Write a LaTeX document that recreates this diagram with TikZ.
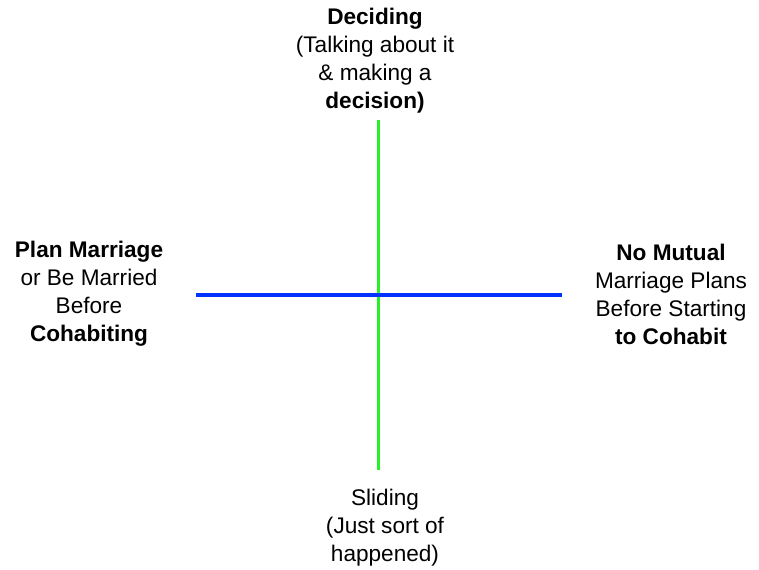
\documentclass[tikz,border=0pt]{standalone}
\usepackage{fontspec}
\setmainfont{Liberation Sans}
\usepackage{xcolor}
\usepackage{tikz}
\usetikzlibrary{positioning, calc}
\definecolor{axevert}{RGB}{40,240,40}
\definecolor{axebleu}{RGB}{0,51,255}

\begin{document}
\begin{tikzpicture}[x=0.5pt, y=-0.5pt,
    etiquette/.style={align=center, inner sep=0pt, font=\fontsize{11.3}{14}\selectfont}]
        \useasboundingbox (0,0) rectangle (759,569);

        % Axe vertical
        \coordinate (haut) at (378,120);
        \coordinate (bas) at (378,470);
        \draw[line width=1.5pt, axevert] (haut) -- (bas);

        % Axe horizontal
        \coordinate (gauche) at (196,295);
        \coordinate (droite) at (562,295);
        \draw[line width=2pt, axebleu] (gauche) -- (droite);

        % Etiquettes
        \node[etiquette] (deciding) at (375,61) {\textbf{Deciding}\\(Talking about it\\\& making a\\\textbf{decision)}};
        \node[etiquette] (sliding) at (385,528) {Sliding\\(Just sort of\\happened)};
        \node[etiquette] (plan) at (89,294) {\textbf{Plan Marriage}\\or Be Married\\Before\\\textbf{Cohabiting}};
        \node[etiquette] (nomutual) at (671,294) {\textbf{No Mutual}\\Marriage Plans\\Before Starting\\\textbf{to Cohabit}};
    \end{tikzpicture}
\end{document}
